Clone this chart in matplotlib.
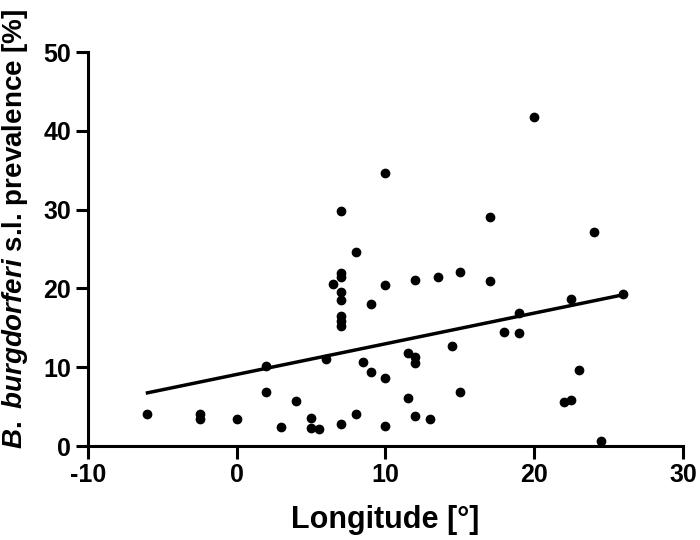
import numpy as np
import matplotlib
matplotlib.use('Agg')
import matplotlib.pyplot as plt

plt.rcParams['font.family'] = 'Liberation Sans'
plt.rcParams['font.weight'] = 'bold'
plt.rcParams['axes.unicode_minus'] = False
plt.rcParams['mathtext.fontset'] = 'custom'
plt.rcParams['mathtext.it'] = 'Liberation Sans:italic:bold'
plt.rcParams['mathtext.rm'] = 'Liberation Sans:bold'

# longitude [deg] and B. burgdorferi s.l. prevalence [%] per site
longitude = [-6, -2.5, -2.5, 0, 2, 2, 3, 4, 5, 5, 5.5, 6, 6.5,
             7, 7, 7, 7, 7, 7, 7, 7, 7, 8, 8, 8.5, 9, 9,
             10, 10, 10, 10, 11.5, 11.5, 12, 12, 12, 12, 13, 13.5, 14.5,
             15, 15, 17, 17, 18, 19, 19, 20, 22, 22.5, 22.5, 23, 24, 24.5, 26]
prevalence = [4.1, 4.1, 3.4, 3.4, 10.2, 6.8, 2.4, 5.7, 3.5, 2.3, 2.2, 11.0, 20.6,
              29.8, 21.9, 21.4, 19.5, 18.5, 16.5, 15.9, 15.2, 2.8, 24.6, 4.1, 10.7, 18.0, 9.35,
              34.6, 20.4, 8.6, 2.5, 11.8, 6.1, 21.1, 11.3, 10.5, 3.8, 3.4, 21.4, 12.7,
              22.1, 6.9, 29.0, 20.9, 14.5, 16.9, 14.4, 41.8, 5.6, 5.9, 18.6, 9.6, 27.1, 0.6, 19.25]

x = np.array(longitude)
y = np.array(prevalence)
slope, intercept = np.polyfit(x, y, 1)
xfit = np.array([x.min(), x.max()])

fig = plt.figure(figsize=(7, 5.4), dpi=100)
ax = fig.add_axes([0.1257, 0.174, 0.85, 0.7297])

ax.plot(x, y, 'o', color='black', markersize=6, clip_on=False, zorder=3)
ax.plot(xfit, slope * xfit + intercept, color='black', linewidth=2.5)

ax.set_xlim(-10, 30)
ax.set_ylim(0, 50)
ax.set_xticks([-10, 0, 10, 20, 30])
ax.set_yticks([0, 10, 20, 30, 40, 50])

for side in ['top', 'right']:
    ax.spines[side].set_visible(False)
for side in ['left', 'bottom']:
    ax.spines[side].set_linewidth(2.2)
ax.tick_params(width=2.2, length=9, labelsize=18, pad=3)

ax.set_xlabel('Longitude [°]', fontsize=22, fontweight='bold', labelpad=13)
ax.set_ylabel(r'$\it{B.}$ $\it{burgdorferi}$ s.l. prevalence [%]', fontsize=20,
              fontweight='bold')
ax.yaxis.set_label_coords(-0.097, 0.552)

fig.savefig('out.png', dpi=100)
